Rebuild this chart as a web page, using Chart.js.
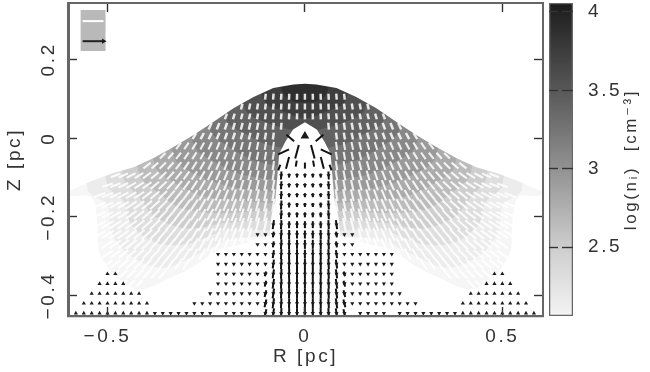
<!DOCTYPE html>
<html><head><meta charset="utf-8">
<script src="https://cdn.jsdelivr.net/npm/chart.js@4"></script>
<style>
html,body{margin:0;padding:0;background:#fff;width:650px;height:372px;overflow:hidden}
canvas{position:absolute;top:0;filter:blur(.45px)}
#main{left:0}#bar{left:546px}
</style></head><body>
<canvas id="main" width="546" height="372" style="width:546px;height:372px"></canvas>
<canvas id="bar" width="104" height="372" style="width:104px;height:372px"></canvas>
<script>
/* ---------- axes ---------- */
const rRange=[-0.6,0.603];
const zRange=[-0.452,0.343];
const rTicks=[-0.5,0,0.5];
const zTicks=[-0.4,-0.2,0,0.2];
const barRange=[2.06,4.057];
const barTicks=[2.5,3,3.5,4];
/* colour bar: density level -> grey */
const barLevels=[2.06,2.5,3,3.5,4,4.057];
const barGreys=['#f4f4f4','#cdcdcd','#929292','#585858','#222222','#1a1a1a'];
/* ---------- density bands, right half: R then Z (mirrored for the left) ---------- */
const bandGreys=['#f6f6f6','#ececec','#dedede','#cecece','#bcbcbc','#ababab','#9a9a9a','#888888','#757575','#626262','#505050','#3e3e3e','#2e2e2e'];
const band01R=[0,.6,.6,.54,.525,.52,.48,.42,.34,.28,.22,.16,.1,0];
const band01Z=[.2,.2,-.14,-.15,-.22,-.29,-.35,-.385,-.355,-.325,-.285,-.27,-.25,-.25];
const band02R=[0,.56,.55,.5,.49,.44,.36,.26,.2,.1,0];
const band02Z=[.2,.2,-.13,-.17,-.24,-.3,-.33,-.29,-.26,-.25,-.25];
const band03R=[0,.52,.5,.46,.44,.38,.3,.2,.1,0];
const band03Z=[.2,.2,-.12,-.16,-.22,-.265,-.27,-.235,-.235,-.24];
const band04R=[0,.48,.46,.42,.38,.3,.2,.1,0];
const band04Z=[.2,.2,-.1,-.15,-.2,-.23,-.215,-.21,-.22];
const band05R=[0,.44,.42,.37,.31,.22,.1,0];
const band05Z=[.2,.2,-.09,-.14,-.18,-.19,-.185,-.19];
const band06R=[0,.4,.38,.32,.25,.15,0];
const band06Z=[.2,.2,-.07,-.12,-.15,-.16,-.17];
const band07R=[0,.36,.33,.26,.18,.1,0];
const band07Z=[.2,.2,-.05,-.1,-.125,-.135,-.14];
const band08R=[0,.32,.28,.22,.15,0];
const band08Z=[.2,.2,-.02,-.065,-.095,-.11];
const band09R=[0,.27,.24,.18,.12,0];
const band09Z=[.2,.2,.02,-.03,-.06,-.075];
const band10R=[0,.22,.2,.15,.1,0];
const band10Z=[.2,.2,.045,.01,-.015,-.03];
const band11R=[0,.17,.15,.1,.05,0];
const band11Z=[.2,.2,.07,.04,.025,.015];
const band12R=[0,.12,.1,.06,0];
const band12Z=[.2,.2,.09,.07,.05];
const band13R=[0,.07,.05,0];
const band13Z=[.2,.2,.105,.09];
/* dome outline (white above it) */
const domeR=[0,.029,.08,.13,.18,.232,.282,.333,.383,.434,.485,.535,.6,.66,.66,0];
const domeZ=[.138,.136,.127,.104,.076,.041,.008,-.023,-.051,-.074,-.089,-.107,-.135,-.15,.36,.36];
/* central cavity outline */
const cavityR=[0,.03,.05,.065,.07,.075,.085,.09,.1,.11,0];
const cavityZ=[.04,.022,-.01,-.04,-.1,-.16,-.2,-.26,-.35,-.46,-.46];
/* ---------- white vectors ---------- */
const whiteRowZ=[.105,.08,.055,.03,.005,-.02,-.045,-.07,-.095,-.12,-.145,-.17,-.195,-.22,-.245,-.27,-.295,-.32,-.345,-.37];
const whiteRowFirstR=[0,0,0,.06,.08,.08,.08,.08,.08,.08,.08,.08,.08,.1,.14,.14,.24,.3,.36,.42];
const whiteRowSize=[6,6,6,7,7,8,8,9,10,11,12,13,13,14,14,14,13,13,12,10];
const whiteTilt00=[0,1,2,3,5,7];
const whiteTilt01=[0,1,3,4,6,8,10,12,14];
const whiteTilt02=[0,2,3,5,7,9,11,13,15,17,20];
const whiteTilt03=[5,7,9,11,13,15,17,20,22,25];
const whiteTilt04=[8,10,12,14,16,18,20,23,25,28,31];
const whiteTilt05=[8,10,12,14,16,18,20,23,25,28,31,34,37];
const whiteTilt06=[9,10,12,14,16,18,21,23,26,29,32,35,38,41,45];
const whiteTilt07=[9,11,12,14,16,19,21,24,26,29,32,35,38,41,45,49,53];
const whiteTilt08=[9,11,13,15,17,19,22,24,27,30,33,36,39,42,46,50,54,58,62,66,70];
const whiteTilt09=[10,11,13,15,17,20,22,25,27,30,33,36,39,43,46,50,54,57,61,65,68,72];
const whiteTilt10=[10,12,14,16,18,20,22,25,28,30,33,36,39,42,46,49,52,56,59,62,65,68,70];
const whiteTilt11=[10,12,14,16,18,20,23,25,28,30,33,36,39,42,45,48,51,54,57,60,63,65,68];
const whiteTilt12=[10,12,14,16,18,21,23,25,28,30,33,36,38,41,44,47,50,52,55,58,60,63,65];
const whiteTilt13=[12,14,16,18,21,23,25,28,30,33,35,38,41,43,46,49,51,54,56,58,60,62];
const whiteTilt14=[16,18,21,23,25,27,30,32,35,37,40,42,45,47,50,52,54,56,58,60];
const whiteTilt15=[16,18,20,22,25,27,29,32,34,36,39,41,44,46,48,50,52,54,56];
const whiteTilt16=[27,29,31,33,36,38,40,43,45,47,49,51,53,55];
const whiteTilt17=[33,35,37,39,41,43,45,47,49,51,53];
const whiteTilt18=[39,41,43,45,47,49,51];
const whiteTilt19=[43,45,47];
const whiteTilts=[whiteTilt00,whiteTilt01,whiteTilt02,whiteTilt03,whiteTilt04,whiteTilt05,whiteTilt06,whiteTilt07,whiteTilt08,whiteTilt09,whiteTilt10,whiteTilt11,whiteTilt12,whiteTilt13,whiteTilt14,whiteTilt15,whiteTilt16,whiteTilt17,whiteTilt18,whiteTilt19];
/* ---------- black vectors: cavity grid ---------- */
const blackColR=[0,.02,.04,.06,.08,.1];
const blackColTilt=[0,0,1,3,8,14];
const blackRowZ=[-.095,-.12,-.145,-.17,-.195,-.22,-.245,-.27,-.295,-.32,-.345,-.37,-.395,-.42,-.445];
const blackSize00=[4,4,4,8,0,0];
const blackSize01=[4,4,4,8,0,0];
const blackSize02=[4,4,4,8,0,0];
const blackSize03=[4,4,5,9,0,0];
const blackSize04=[5,5,5,9,0,0];
const blackSize05=[7,7,7,9,9,0];
const blackSize06=[8,8,9,10,6,0];
const blackSize07=[9,9,10,10,6,0];
const blackSize08=[9,10,10,10,8,0];
const blackSize09=[10,10,10,10,9,0];
const blackSize10=[10,10,10,10,9,5];
const blackSize11=[10,10,10,10,10,6];
const blackSize12=[10,10,10,10,10,7];
const blackSize13=[10,10,10,10,10,8];
const blackSize14=[10,10,10,10,10,8];
const blackSizes=[blackSize00,blackSize01,blackSize02,blackSize03,blackSize04,blackSize05,blackSize06,blackSize07,blackSize08,blackSize09,blackSize10,blackSize11,blackSize12,blackSize13,blackSize14];
/* black vectors around the source: R, Z, canvas angle, size */
const apexR=[.037,.054,.02,.044,.065,.022,0];
const apexZ=[0,-.035,-.035,-.063,-.075,-.065,-.07];
const apexAngle=[40,-25,-75,-75,-70,-80,90];
const apexSize=[10,12,14,12,6,6,6];
const sourceR=[0];
const sourceZ=[.005];
/* ---------- small down / up arrows, by row ---------- */
const downZ=[-.245,-.27,-.295,-.32,-.345,-.37,-.395,-.42,-.445];
const downR0=[.08,.1,.12];
const downR1=[.08,.1,.12];
const downR2=[.1,.12,.14,.16,.18,.2,.22];
const downR3=[.1,.12,.14,.16,.18,.2,.22];
const downR4=[.1,.12,.14,.16,.18,.2,.22];
const downR5=[.1,.12,.14,.16,.18,.2,.22];
const downR6=[.1,.12,.14,.16,.18,.2,.22,.24];
const downR7=[.1,.12,.14,.16,.18,.2,.22,.24,.26,.28];
const downR8=[.14,.16,.18,.2,.24,.26,.28,.3,.32,.34,.36,.38];
const downRows=[downR0,downR1,downR2,downR3,downR4,downR5,downR6,downR7,downR8];
const upZ=[-.345,-.37,-.395,-.42,-.445];
const upR0=[.48,.5];
const upR1=[.46,.48,.5,.52];
const upR2=[.42,.44,.46,.48,.5,.52,.54];
const upR3=[.4,.42,.44,.46,.48,.5,.52,.54,.56];
const upR4=[.4,.42,.44,.46,.48,.5,.52,.54,.56,.58];
const upRows=[upR0,upR1,upR2,upR3,upR4];
/* ---------- scale key ---------- */
const keyBoxR=[-.568,-.505,-.505,-.568,-.568];
const keyBoxZ=[.325,.325,.221,.221,.325];
const keyWhiteR=[-.563,-.51];
const keyWhiteZ=[.297,.297];
const keyBlackR=[-.563,-.51];
const keyBlackZ=[.246,.246];
/* ---------- texts ---------- */
const rTitle='R [pc]';
const zTitle='Z [pc]';
const barTitle='log(n\u1d62)  [cm\u207b\u00b3]';
const fmt=v=>String(v).replace('-','\u2212');

/* ---------- build datasets ---------- */
const layers=[];
function add(d){d.order=-layers.length;layers.push(d);}
function outline(hr,hz){
  const pts=hr.map((r,i)=>({x:r,y:hz[i]}));
  for(let i=hr.length-2;i>=0;i--)pts.push({x:-hr[i],y:hz[i]});
  return pts;
}
function shape(pts,color,tension){
  add({type:'line',data:pts,fill:'shape',backgroundColor:color,borderColor:color,borderWidth:0,pointRadius:0,tension:tension});
}
[[band01R,band01Z],[band02R,band02Z],[band03R,band03Z],[band04R,band04Z],[band05R,band05Z],[band06R,band06Z],[band07R,band07Z],[band08R,band08Z],[band09R,band09Z],[band10R,band10Z],[band11R,band11Z],[band12R,band12Z],[band13R,band13Z]]
  .forEach((b,i)=>shape(outline(b[0],b[1]),bandGreys[i],.3));
shape(outline(domeR,domeZ),'#ffffff',0);
shape(outline(cavityR,cavityZ),'#ffffff',0);

/* tilt measured from vertical, leaning toward the centre at the top */
function segs(list,color,width,shortWidth){
  add({type:'scatter',data:list,showLine:false,pointStyle:'line',pointBorderColor:color,pointBackgroundColor:color,
    pointBorderWidth:c=>c.raw.s<8?shortWidth:width,
    pointRadius:c=>c.raw.s/2,pointRotation:c=>c.raw.a,pointHoverRadius:0});
}
function both(list,r,z,tilt,s){
  if(r===0){list.push({x:0,y:z,a:90,s});return;}
  list.push({x:-r,y:z,a:tilt-90,s});
  list.push({x:r,y:z,a:90-tilt,s});
}
const whitePts=[];
whiteRowZ.forEach((z,j)=>whiteTilts[j].forEach((t,i)=>{
  const r=Math.round((whiteRowFirstR[j]+.02*i)*100)/100;
  both(whitePts,r,z,t,whiteRowSize[j]);
}));
segs(whitePts,'rgba(255,255,255,.85)',2.1,2.5);

const blackPts=[],headPts=[];
blackRowZ.forEach((z,j)=>blackSizes[j].forEach((s,i)=>{
  if(!s)return;
  both(blackPts,blackColR[i],z,blackColTilt[i],s);
  headPts.push({x:blackColR[i],y:z});
  if(blackColR[i])headPts.push({x:-blackColR[i],y:z});
}));
apexR.forEach((r,i)=>{
  blackPts.push({x:-r,y:apexZ[i],a:apexAngle[i],s:apexSize[i]});
  if(r)blackPts.push({x:r,y:apexZ[i],a:-apexAngle[i],s:apexSize[i]});
});
segs(blackPts,'#111',2,2);
function marks(pts,rot,rad){
  add({type:'scatter',data:pts,showLine:false,pointStyle:'triangle',pointRotation:rot,pointRadius:rad,pointBackgroundColor:'#1a1a1a',pointBorderColor:'#1a1a1a',pointBorderWidth:0,pointHoverRadius:0});
}
marks(headPts,180,2.4);
const downPts=[],upPts=[];
downZ.forEach((z,j)=>downRows[j].forEach(r=>{downPts.push({x:-r,y:z},{x:r,y:z});}));
upZ.forEach((z,j)=>upRows[j].forEach(r=>{upPts.push({x:-r,y:z},{x:r,y:z});}));
marks(downPts,180,2.4);
marks(upPts,0,2.4);
marks(sourceR.map((r,i)=>({x:r,y:sourceZ[i]})),0,5);

/* key */
shape(keyBoxR.map((r,i)=>({x:r,y:keyBoxZ[i]})),'#b9b9b9',0);
add({type:'line',data:keyWhiteR.map((r,i)=>({x:r,y:keyWhiteZ[i]})),borderColor:'#fff',borderWidth:2,pointRadius:0});
add({type:'line',data:keyBlackR.map((r,i)=>({x:r,y:keyBlackZ[i]})),borderColor:'#222',borderWidth:2,pointRadius:0});
marks([{x:keyBlackR[1],y:keyBlackZ[1]}],90,3);

/* ---------- common ---------- */
const ink='#333333',frame='#666666';
const tickFont={family:'"Liberation Sans"',size:19};
const spacing={id:'spacing',beforeLayout(c){c.ctx.letterSpacing='2.6px';},beforeDraw(c){c.ctx.letterSpacing='2.6px';}};
const fixed=(prop,v)=>s=>{s[prop]=v;s.paddingTop=s.paddingBottom=s.paddingLeft=s.paddingRight=0;};
const setTicks=list=>s=>{s.ticks=list.map(v=>({value:v}));};
const inner=(len)=>({drawOnChartArea:false,drawTicks:true,tickLength:-len,tickColor:'#333',tickWidth:1.4,z:2});
const edge=(w)=>({display:true,color:frame,width:w,z:3});

new Chart(document.getElementById('main'),{
  type:'scatter',
  data:{datasets:layers},
  plugins:[spacing],
  options:{
    responsive:false,animation:false,events:[],
    layout:{padding:0,autoPadding:false},
    plugins:{legend:{display:false},tooltip:{enabled:false}},
    scales:{
      x:{type:'linear',position:'bottom',min:rRange[0],max:rRange[1],afterBuildTicks:setTicks(rTicks),afterFit:fixed('height',56),
        grid:inner(9),border:edge(2.2),
        ticks:{padding:18,font:tickFont,color:ink,maxRotation:0,minRotation:0,callback:fmt},
        title:{display:true,text:rTitle,font:tickFont,color:ink,padding:{top:0,bottom:4}}},
      y:{type:'linear',position:'left',min:zRange[0],max:zRange[1],afterBuildTicks:setTicks(zTicks),afterFit:fixed('width',68),
        grid:inner(9),border:edge(3),
        ticks:{padding:4,font:tickFont,color:ink,minRotation:90,maxRotation:90,crossAlign:'center',callback:fmt},
        title:{display:true,text:zTitle,font:tickFont,color:ink,padding:{top:3,bottom:0}}},
      x2:{type:'linear',position:'top',min:rRange[0],max:rRange[1],afterBuildTicks:setTicks(rTicks),afterFit:fixed('height',3),
        grid:inner(9),border:edge(2),ticks:{display:false}},
      y2:{type:'linear',position:'right',min:zRange[0],max:zRange[1],afterBuildTicks:setTicks(zTicks),afterFit:fixed('width',3),
        grid:inner(9),border:edge(2),ticks:{display:false}}
    }
  }
});

function barFill(c){
  const s=c.chart.scales.y;
  if(!s)return '#888';
  const p0=s.getPixelForValue(barRange[0]),p1=s.getPixelForValue(barRange[1]);
  if(!isFinite(p0)||!isFinite(p1))return '#888';
  const g=c.chart.ctx.createLinearGradient(0,p0,0,p1);
  barLevels.forEach((l,i)=>g.addColorStop((l-barRange[0])/(barRange[1]-barRange[0]),barGreys[i]));
  return g;
}
new Chart(document.getElementById('bar'),{
  type:'bar',
  data:{labels:['n'],datasets:[{data:[barRange],backgroundColor:barFill,borderColor:frame,borderWidth:1.6,borderSkipped:false,barPercentage:1,categoryPercentage:1}]},
  plugins:[spacing],
  options:{
    responsive:false,animation:false,events:[],
    layout:{padding:{left:3,top:3,bottom:56,right:0},autoPadding:false},
    plugins:{legend:{display:false},tooltip:{enabled:false}},
    scales:{
      x:{display:false},
      y:{type:'linear',position:'right',min:barRange[0],max:barRange[1],afterBuildTicks:setTicks(barTicks),afterFit:fixed('width',77),
        grid:inner(11),border:{display:false},
        ticks:{padding:26,font:tickFont,color:ink,callback:fmt}},
      yL:{type:'linear',position:'left',min:barRange[0],max:barRange[1],afterBuildTicks:setTicks(barTicks),afterFit:fixed('width',0),
        grid:inner(9),border:{display:false},ticks:{display:false},
        title:{display:true,text:barTitle,font:{family:'"Liberation Sans","DejaVu Sans"',size:17},color:ink,padding:{top:72,bottom:0}}}
    }
  }
});
</script>
</body></html>
